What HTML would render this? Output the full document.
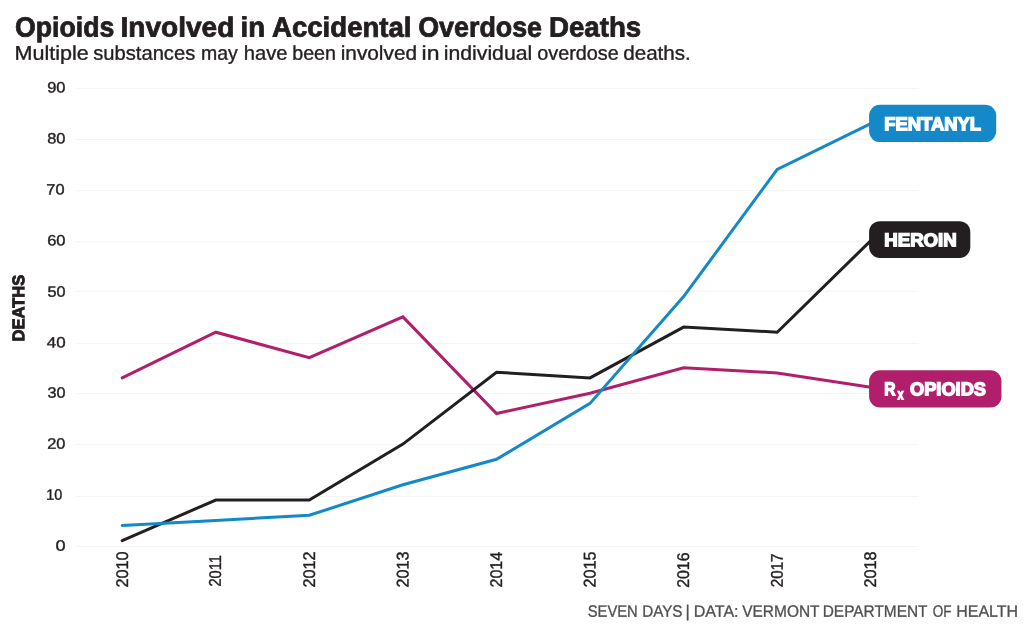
<!DOCTYPE html>
<html><head><meta charset="utf-8"><title>Opioids Involved in Accidental Overdose Deaths</title>
<style>
html,body{margin:0;padding:0;background:#fff;}
svg{display:block;}
text{font-family:"Liberation Sans",sans-serif;}
</style></head><body>
<svg width="1025" height="628" viewBox="0 0 1025 628">
<rect width="1025" height="628" fill="#ffffff"/>
<g stroke="#f4f4f4" stroke-width="1">
<line x1="76" x2="918.5" y1="546.50" y2="546.50"/>
<line x1="76" x2="918.5" y1="496.50" y2="496.50"/>
<line x1="76" x2="918.5" y1="444.40" y2="444.40"/>
<line x1="76" x2="918.5" y1="393.50" y2="393.50"/>
<line x1="76" x2="918.5" y1="343.65" y2="343.65"/>
<line x1="76" x2="918.5" y1="291.40" y2="291.40"/>
<line x1="76" x2="918.5" y1="241.80" y2="241.80"/>
<line x1="76" x2="918.5" y1="190.67" y2="190.67"/>
<line x1="76" x2="918.5" y1="139.45" y2="139.45"/>
<line x1="76" x2="918.5" y1="88.40" y2="88.40"/>
</g>
<g fill="none" stroke-width="3" stroke-linejoin="miter" stroke-linecap="round">
<polyline stroke="#b11f6c" points="122.2,377.9 215.8,332.2 309.3,357.6 402.9,316.9 496.5,413.5 590.0,393.2 683.6,367.8 777.2,372.9 870.8,387.3"/>
<polyline stroke="#231f20" points="122.2,540.7 215.8,500.0 309.3,500.0 402.9,444.1 496.5,372.3 590.0,377.9 683.6,327.1 777.2,332.2 870.8,240.6"/>
<polyline stroke="#1488c8" points="122.2,525.5 215.8,520.4 309.3,515.3 402.9,484.8 496.5,459.3 590.0,403.4 683.6,296.6 777.2,169.4 870.8,123.6"/>
</g>
<rect x="869.1" y="104.75" width="127.1" height="37.35" rx="11" fill="#1488c8"/>
<rect x="869.1" y="221.15" width="101.2" height="36.85" rx="11" fill="#231f20"/>
<rect x="869.1" y="370.2" width="132.35" height="37.35" rx="11" fill="#b11f6c"/>
<text transform="rotate(0.05 14.99 36.55)" font-size="27.86" font-weight="bold" fill="#231f20" stroke="#231f20" stroke-width="0.8"><tspan x="14.99" y="36.55" textLength="99.27" lengthAdjust="spacingAndGlyphs">Opioids</tspan> <tspan x="120.47" y="36.46" textLength="113.82" lengthAdjust="spacingAndGlyphs">Involved</tspan> <tspan x="240.56" y="36.35" textLength="24.58" lengthAdjust="spacingAndGlyphs">in</tspan> <tspan x="272.00" y="36.33" textLength="139.52" lengthAdjust="spacingAndGlyphs">Accidental</tspan> <tspan x="418.24" y="36.20" textLength="123.76" lengthAdjust="spacingAndGlyphs">Overdose</tspan> <tspan x="548.96" y="36.08" textLength="92.31" lengthAdjust="spacingAndGlyphs">Deaths</tspan></text>
<text transform="rotate(0.05 14.45 59.78)" font-size="19.9" fill="#231f20" stroke="#231f20" stroke-width="0.35"><tspan x="14.45" y="59.78" textLength="74.33" lengthAdjust="spacingAndGlyphs">Multiple</tspan> <tspan x="93.24" y="59.71" textLength="102.01" lengthAdjust="spacingAndGlyphs">substances</tspan> <tspan x="200.97" y="59.62" textLength="36.77" lengthAdjust="spacingAndGlyphs">may</tspan> <tspan x="243.69" y="59.58" textLength="43.85" lengthAdjust="spacingAndGlyphs">have</tspan> <tspan x="292.20" y="59.54" textLength="43.85" lengthAdjust="spacingAndGlyphs">been</tspan> <tspan x="340.71" y="59.50" textLength="76.32" lengthAdjust="spacingAndGlyphs">involved</tspan> <tspan x="421.55" y="59.42" textLength="17.89" lengthAdjust="spacingAndGlyphs">in</tspan> <tspan x="443.71" y="59.41" textLength="88.57" lengthAdjust="spacingAndGlyphs">individual</tspan> <tspan x="537.24" y="59.32" textLength="81.52" lengthAdjust="spacingAndGlyphs">overdose</tspan> <tspan x="623.23" y="59.25" textLength="67.58" lengthAdjust="spacingAndGlyphs">deaths.</tspan></text>
<text x="55.46" y="550.69" transform="rotate(0.05 55.46 550.69)" font-size="15.0" fill="#231f20" textLength="10.10" lengthAdjust="spacingAndGlyphs" stroke="#231f20" stroke-width="0.4">0</text>
<text x="46.23" y="499.66" transform="rotate(0.05 46.23 499.66)" font-size="15.0" fill="#231f20" textLength="16.09" lengthAdjust="spacingAndGlyphs" stroke="#231f20" stroke-width="0.4">10</text>
<text x="47.20" y="448.66" transform="rotate(0.05 47.20 448.66)" font-size="15.0" fill="#231f20" textLength="18.22" lengthAdjust="spacingAndGlyphs" stroke="#231f20" stroke-width="0.4">20</text>
<text x="47.48" y="397.66" transform="rotate(0.05 47.48 397.66)" font-size="15.0" fill="#231f20" textLength="18.04" lengthAdjust="spacingAndGlyphs" stroke="#231f20" stroke-width="0.4">30</text>
<text x="46.85" y="347.62" transform="rotate(0.05 46.85 347.62)" font-size="15.0" fill="#231f20" textLength="18.82" lengthAdjust="spacingAndGlyphs" stroke="#231f20" stroke-width="0.4">40</text>
<text x="47.48" y="296.66" transform="rotate(0.05 47.48 296.66)" font-size="15.0" fill="#231f20" textLength="18.04" lengthAdjust="spacingAndGlyphs" stroke="#231f20" stroke-width="0.4">50</text>
<text x="47.21" y="245.62" transform="rotate(0.05 47.21 245.62)" font-size="15.0" fill="#231f20" textLength="18.31" lengthAdjust="spacingAndGlyphs" stroke="#231f20" stroke-width="0.4">60</text>
<text x="46.32" y="194.62" transform="rotate(0.05 46.32 194.62)" font-size="15.0" fill="#231f20" textLength="18.15" lengthAdjust="spacingAndGlyphs" stroke="#231f20" stroke-width="0.4">70</text>
<text x="47.22" y="143.60" transform="rotate(0.05 47.22 143.60)" font-size="15.0" fill="#231f20" textLength="18.30" lengthAdjust="spacingAndGlyphs" stroke="#231f20" stroke-width="0.4">80</text>
<text x="47.22" y="92.62" transform="rotate(0.05 47.22 92.62)" font-size="15.0" fill="#231f20" textLength="18.30" lengthAdjust="spacingAndGlyphs" stroke="#231f20" stroke-width="0.4">90</text>
<text transform="translate(127.97,587.52) rotate(-89.95)" font-size="16.93" fill="#231f20" textLength="36.04" lengthAdjust="spacingAndGlyphs" stroke="#231f20" stroke-width="0.4">2010</text>
<text transform="translate(220.87,586.53) rotate(-89.95)" font-size="16.93" fill="#231f20" textLength="31.31" lengthAdjust="spacingAndGlyphs" stroke="#231f20" stroke-width="0.4">2011</text>
<text transform="translate(314.97,587.52) rotate(-89.95)" font-size="16.93" fill="#231f20" textLength="36.05" lengthAdjust="spacingAndGlyphs" stroke="#231f20" stroke-width="0.4">2012</text>
<text transform="translate(408.47,587.52) rotate(-89.95)" font-size="16.93" fill="#231f20" textLength="36.04" lengthAdjust="spacingAndGlyphs" stroke="#231f20" stroke-width="0.4">2013</text>
<text transform="translate(501.97,587.52) rotate(-89.95)" font-size="16.93" fill="#231f20" textLength="35.77" lengthAdjust="spacingAndGlyphs" stroke="#231f20" stroke-width="0.4">2014</text>
<text transform="translate(595.47,587.52) rotate(-89.95)" font-size="16.93" fill="#231f20" textLength="36.04" lengthAdjust="spacingAndGlyphs" stroke="#231f20" stroke-width="0.4">2015</text>
<text transform="translate(688.97,587.77) rotate(-89.95)" font-size="16.93" fill="#231f20" textLength="35.29" lengthAdjust="spacingAndGlyphs" stroke="#231f20" stroke-width="0.4">2016</text>
<text transform="translate(782.77,587.28) rotate(-89.95)" font-size="16.93" fill="#231f20" textLength="33.80" lengthAdjust="spacingAndGlyphs" stroke="#231f20" stroke-width="0.4">2017</text>
<text transform="translate(875.97,587.52) rotate(-89.95)" font-size="16.93" fill="#231f20" textLength="36.04" lengthAdjust="spacingAndGlyphs" stroke="#231f20" stroke-width="0.4">2018</text>
<text transform="translate(24.30,341.51) rotate(-89.95)" font-size="16.9" font-weight="bold" fill="#231f20" textLength="66.76" lengthAdjust="spacingAndGlyphs" stroke="#231f20" stroke-width="0.9">DEATHS</text>
<text x="884.25" y="130.30" transform="rotate(0.05 884.25 130.30)" font-size="18.46" font-weight="bold" fill="#ffffff" textLength="96.75" lengthAdjust="spacingAndGlyphs" stroke="#ffffff" stroke-width="1.4">FENTANYL</text>
<text x="884.24" y="246.20" transform="rotate(0.05 884.24 246.20)" font-size="18.46" font-weight="bold" fill="#ffffff" textLength="72.52" lengthAdjust="spacingAndGlyphs" stroke="#ffffff" stroke-width="1.4">HEROIN</text>
<text transform="rotate(0.05 884.26 395.30)" font-size="18.46" font-weight="bold" fill="#ffffff" stroke="#ffffff" stroke-width="1.4"><tspan x="884.26" y="395.30" textLength="11.26" lengthAdjust="spacingAndGlyphs">R</tspan><tspan x="897.74" y="399.29" font-size="14.8" textLength="5.73" lengthAdjust="spacingAndGlyphs">x</tspan> <tspan x="910.00" y="395.28" textLength="76.00" lengthAdjust="spacingAndGlyphs">OPIOIDS</tspan></text>
<text transform="rotate(0.05 587.73 616.65)" font-size="16.45" fill="#4f4f4f" stroke="#4f4f4f" stroke-width="0.3"><tspan x="587.73" y="616.65" textLength="50.06" lengthAdjust="spacingAndGlyphs">SEVEN</tspan> <tspan x="642.21" y="616.60" textLength="40.32" lengthAdjust="spacingAndGlyphs">DAYS</tspan> <tspan x="685.42" y="616.56">|</tspan> <tspan x="693.68" y="616.56" textLength="44.89" lengthAdjust="spacingAndGlyphs">DATA:</tspan> <tspan x="742.25" y="616.52" textLength="77.00" lengthAdjust="spacingAndGlyphs">VERMONT</tspan> <tspan x="822.74" y="616.44" textLength="104.52" lengthAdjust="spacingAndGlyphs">DEPARTMENT</tspan> <tspan x="932.72" y="616.35" textLength="18.80" lengthAdjust="spacingAndGlyphs">OF</tspan> <tspan x="956.20" y="616.33" textLength="61.84" lengthAdjust="spacingAndGlyphs">HEALTH</tspan></text>
</svg>
</body></html>
